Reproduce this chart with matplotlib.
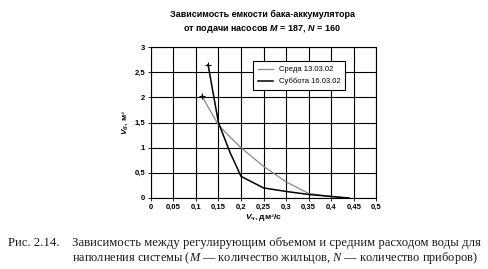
import matplotlib.pyplot as plt

plt.rcParams['mathtext.fontset'] = 'custom'
plt.rcParams['mathtext.rm'] = 'Liberation Serif'
plt.rcParams['mathtext.it'] = 'Liberation Serif:style=italic'
plt.rcParams['mathtext.sf'] = 'Liberation Sans:style=italic:weight=bold'

# Среда 13.03.02
x_wed = [0.113, 0.15, 0.175, 0.2, 0.25, 0.3, 0.35, 0.4, 0.43]
y_wed = [2.03, 1.45, 1.22, 1.0, 0.63, 0.32, 0.09, 0.03, 0.0]
# Суббота 16.03.02
x_sat = [0.127, 0.15, 0.175, 0.2, 0.25, 0.3, 0.35, 0.4, 0.44]
y_sat = [2.65, 1.5, 0.92, 0.43, 0.2, 0.13, 0.07, 0.03, 0.0]

xticks = [0, 0.05, 0.1, 0.15, 0.2, 0.25, 0.3, 0.35, 0.4, 0.45, 0.5]
yticks = [0, 0.5, 1, 1.5, 2, 2.5, 3]

sans = ['Liberation Sans Narrow', 'Liberation Sans', 'DejaVu Sans']
serif = ['Liberation Serif', 'DejaVu Serif']

def lab(v):
    return ('%g' % v).replace('.', ',')

fig = plt.figure(figsize=(4.88, 2.69), dpi=100)
ax = fig.add_axes([0.309, 0.264, 0.462, 0.561])

ax.plot(x_wed, y_wed, color='#888888', lw=0.9, label='Среда 13.03.02')
ax.plot(x_sat, y_sat, color='black', lw=1.1, label='Суббота 16.03.02')
ax.plot(x_wed[0], y_wed[0], marker='+', color='black', ms=4, mew=0.8)
ax.plot(x_sat[0], y_sat[0], marker='+', color='black', ms=4, mew=0.8)

ax.set_xlim(0, 0.5)
ax.set_ylim(0, 3)
ax.set_xticks(xticks)
ax.set_yticks(yticks)
ax.set_xticklabels([lab(v) for v in xticks], fontsize=5.5, fontweight='bold', family=sans)
ax.set_yticklabels([lab(v) for v in yticks], fontsize=5.5, fontweight='bold', family=sans)
ax.tick_params(length=2, width=0.6, pad=2)
ax.grid(True, color='black', lw=0.8)
for s in ax.spines.values():
    s.set_linewidth(0.8)

ax.set_xlabel('$\\mathsf{V_{ч}}$, дм³/с', fontsize=6, fontweight='bold', labelpad=1, family=sans)
ax.set_ylabel('$\\mathsf{V_{б}}$, м³', fontsize=6, fontweight='bold', labelpad=3, family=sans)

leg = ax.legend(loc='upper right', bbox_to_anchor=(0.88, 0.93),
                prop={'family': sans, 'size': 5.5},
                frameon=True, fancybox=False, handlelength=2.0, borderpad=0.6,
                labelspacing=0.6, framealpha=1)
leg.get_frame().set_edgecolor('black')
leg.get_frame().set_linewidth(0.8)

fig.text(0.537, 0.935, 'Зависимость емкости бака-аккумулятора', ha='center',
         fontsize=6.5, fontweight='bold', family=sans)
fig.text(0.537, 0.885, 'от подачи насосов $\\mathsf{M}$ = 187, $\\mathsf{N}$ = 160', ha='center',
         fontsize=6.5, fontweight='bold', family=sans)

fig.text(0.016, 0.085, 'Рис. 2.14.', fontsize=9.2, family=serif, color='#1a1a1a')
fig.text(0.148, 0.085, 'Зависимость между регулирующим объемом и средним расходом воды для',
         fontsize=9.2, family=serif, color='#1a1a1a')
fig.text(0.148, 0.028, 'наполнения системы ($M$ — количество жильцов, $N$ — количество приборов)',
         fontsize=8.9, family=serif, color='#1a1a1a')

fig.savefig('out.png', dpi=100)
